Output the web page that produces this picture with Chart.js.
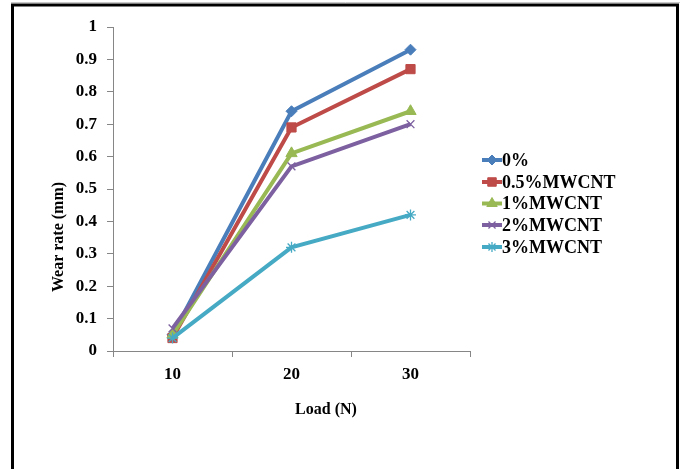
<!DOCTYPE html>
<html>
<head>
<meta charset="utf-8">
<script src="https://cdn.jsdelivr.net/npm/chart.js@4/dist/chart.umd.min.js"></script>
<style>
  html, body { margin: 0; padding: 0; background: #fff; }
  #wrap { width: 686px; height: 469px; }
</style>
</head>
<body>
<div id="wrap"><canvas id="c" width="686" height="469"></canvas></div>
<script>
const categories = ['10', '20', '30'];
const yTickLabels = ['0', '0.1', '0.2', '0.3', '0.4', '0.5', '0.6', '0.7', '0.8', '0.9', '1'];
const seriesNames = ['0%', '0.5%MWCNT', '1%MWCNT', '2%MWCNT', '3%MWCNT'];
const s0 = [0.05, 0.74, 0.93];
const s05 = [0.04, 0.69, 0.87];
const s1 = [0.05, 0.61, 0.74];
const s2 = [0.07, 0.57, 0.70];
const s3 = [0.04, 0.32, 0.42];
const xTitle = 'Load (N)';
const yTitle = 'Wear rate (mm)';

const FONT = '"Liberation Serif", "Times New Roman", serif';
const colors = ['#4A7EBB', '#BE4B48', '#98B954', '#7D60A0', '#46AAC5'];
const styles = [
  { pointStyle: 'rectRot', radius: 5.5, bw: 1 },
  { pointStyle: 'rect', radius: 6.5, bw: 1 },
  { pointStyle: 'triangle', radius: 6.5, bw: 1 },
  { pointStyle: 'crossRot', radius: 5.5, bw: 1.3 },
  { pointStyle: 'star', radius: 5.5, bw: 1.3 }
];
const seriesValues = [s0, s05, s1, s2, s3];

const datasets = seriesValues.map((vals, i) => ({
  label: seriesNames[i],
  data: vals,
  order: seriesValues.length - i,
  borderColor: colors[i],
  backgroundColor: colors[i],
  borderWidth: 4,
  pointStyle: styles[i].pointStyle,
  pointRadius: styles[i].radius,
  pointBorderWidth: styles[i].bw,
  pointBackgroundColor: colors[i],
  pointBorderColor: colors[i],
  tension: 0,
  fill: false
}));

const decor = {
  id: 'decor',
  beforeDraw(chart) {
    const ctx = chart.ctx;
    ctx.save();
    ctx.fillStyle = '#fff';
    ctx.fillRect(0, 0, chart.width, chart.height);
    ctx.strokeStyle = '#c8c8c8';
    ctx.lineWidth = 1;
    ctx.beginPath();
    ctx.moveTo(11, 2.5); ctx.lineTo(680, 2.5);
    ctx.stroke();
    ctx.strokeStyle = '#000';
    ctx.lineWidth = 3;
    ctx.beginPath();
    ctx.moveTo(12.5, 469); ctx.lineTo(12.5, 5); ctx.lineTo(677.5, 5); ctx.lineTo(677.5, 469);
    ctx.stroke();
    ctx.restore();
  },
  afterDraw(chart) {
    const ctx = chart.ctx;
    ctx.save();
    ctx.fillStyle = '#000';
    ctx.font = 'bold 16px ' + FONT;
    ctx.textAlign = 'center';
    ctx.textBaseline = 'middle';
    ctx.fillText(xTitle, 326, 410);
    ctx.save();
    ctx.translate(59, 237);
    ctx.rotate(-Math.PI / 2);
    ctx.fillText(yTitle, 0, 0);
    ctx.restore();
    // legend
    const ys = [160, 182, 203.5, 225, 247];
    chart.data.datasets.forEach((ds, i) => {
      const y = ys[i];
      ctx.strokeStyle = ds.borderColor;
      ctx.fillStyle = ds.borderColor;
      ctx.lineWidth = 4;
      ctx.beginPath();
      ctx.moveTo(482, y); ctx.lineTo(502, y);
      ctx.stroke();
      ctx.lineWidth = ds.pointBorderWidth;
      Chart.helpers.drawPoint(ctx, {
        pointStyle: ds.pointStyle,
        radius: ds.pointRadius - 0.5,
        borderWidth: ds.pointBorderWidth,
        rotation: 0
      }, 492, y);
      ctx.fillStyle = '#000';
      ctx.font = 'bold 18px ' + FONT;
      ctx.textAlign = 'left';
      ctx.textBaseline = 'middle';
      ctx.fillText(ds.label, 502, y + 1);
    });
    ctx.restore();
  }
};

new Chart(document.getElementById('c'), {
  type: 'line',
  data: { labels: categories, datasets },
  options: {
    responsive: false,
    animation: false,
    devicePixelRatio: 1,
    layout: { padding: { top: 27, right: 216, bottom: 0, left: 0 } },
    plugins: { legend: { display: false }, tooltip: { enabled: false }, title: { display: false } },
    scales: {
      x: {
        type: 'category',
        offset: true,
        afterFit(scale) { scale.height = 118; },
        border: { display: true, color: '#868686', width: 1 },
        grid: { display: true, offset: true, drawOnChartArea: false, drawTicks: true, tickLength: 6, color: '#868686' },
        ticks: { color: '#000', font: { family: FONT, size: 17, weight: 'bold' }, padding: 7, maxRotation: 0 }
      },
      y: {
        min: 0, max: 1,
        afterFit(scale) { scale.width = 113; },
        border: { display: true, color: '#868686', width: 1 },
        grid: { display: true, drawOnChartArea: false, drawTicks: true, tickLength: 6, color: '#868686' },
        ticks: {
          stepSize: 0.1,
          color: '#000',
          font: { family: FONT, size: 17, weight: 'bold' },
          padding: 10,
          callback: (v, i) => yTickLabels[i]
        }
      }
    }
  },
  plugins: [decor]
});
</script>
</body>
</html>
